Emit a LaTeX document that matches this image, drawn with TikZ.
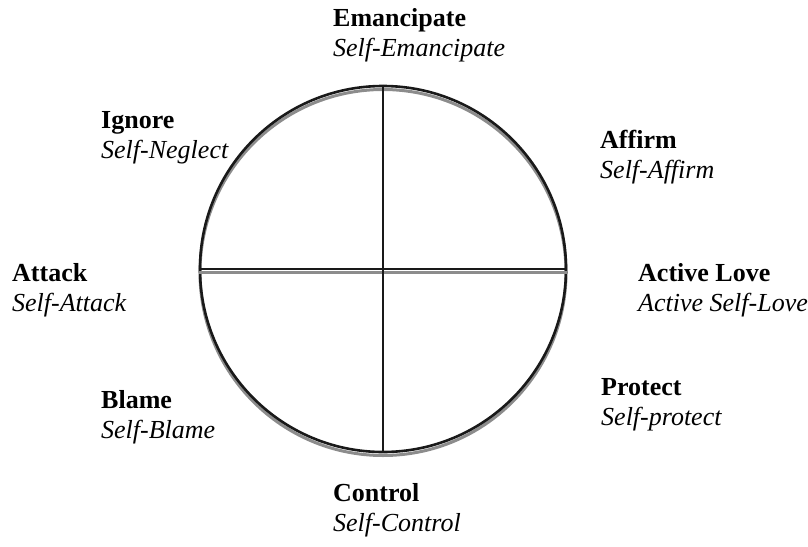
\documentclass[tikz,border=0pt]{standalone}
\usepackage{fontspec}
\setmainfont{Liberation Serif}
\usepackage{tikz}

\begin{document}
\begin{tikzpicture}[x = 1pt, y = -1pt,
                    wheel/.style = {circle, draw, inner sep = 0pt, minimum size = 366pt},
                    shade/.style = {draw = black!45, line width = 3pt},
                    rim/.style = {draw = black!90, line width = 2.6pt},
                    label/.style = {anchor = base west, align = left, inner sep = 0pt,
                                    font = \fontsize{26}{30}\selectfont}]
  \useasboundingbox (0,0) rectangle (808,546);

  \node [wheel, shade] (W0) at (383,272.5) {};
  \node [wheel, rim] (W) at (383,269) {};

  \draw [shade] ([yshift = -3.5pt]W.west) -- ([yshift = -3.5pt]W.east);
  \draw [black!90, line width = 2.6pt] (W.west) -- (W.east);
  \draw [black!90, line width = 2pt] (W.north) -- (W.south);

  % anchors sit on the baseline of the second (italic) line
  \node [label] (L0) at (333,56) {\textbf{Emancipate}\\\textit{Self-Emancipate}};
  \node [label] (L1) at (600,178) {\textbf{Affirm}\\\textit{Self-Affirm}};
  \node [label] (L2) at (638,311) {\textbf{Active Love}\\\textit{Active Self-Love}};
  \node [label] (L3) at (601,425) {\textbf{Protect}\\\textit{Self-protect}};
  \node [label] (L4) at (333,531) {\textbf{Control}\\\textit{Self-Control}};
  \node [label] (L5) at (101,438) {\textbf{Blame}\\\textit{Self-Blame}};
  \node [label] (L6) at (12,311) {\textbf{Attack}\\\textit{Self-Attack}};
  \node [label] (L7) at (101,158) {\textbf{Ignore}\\\textit{Self-Neglect}};
\end{tikzpicture}
\end{document}
